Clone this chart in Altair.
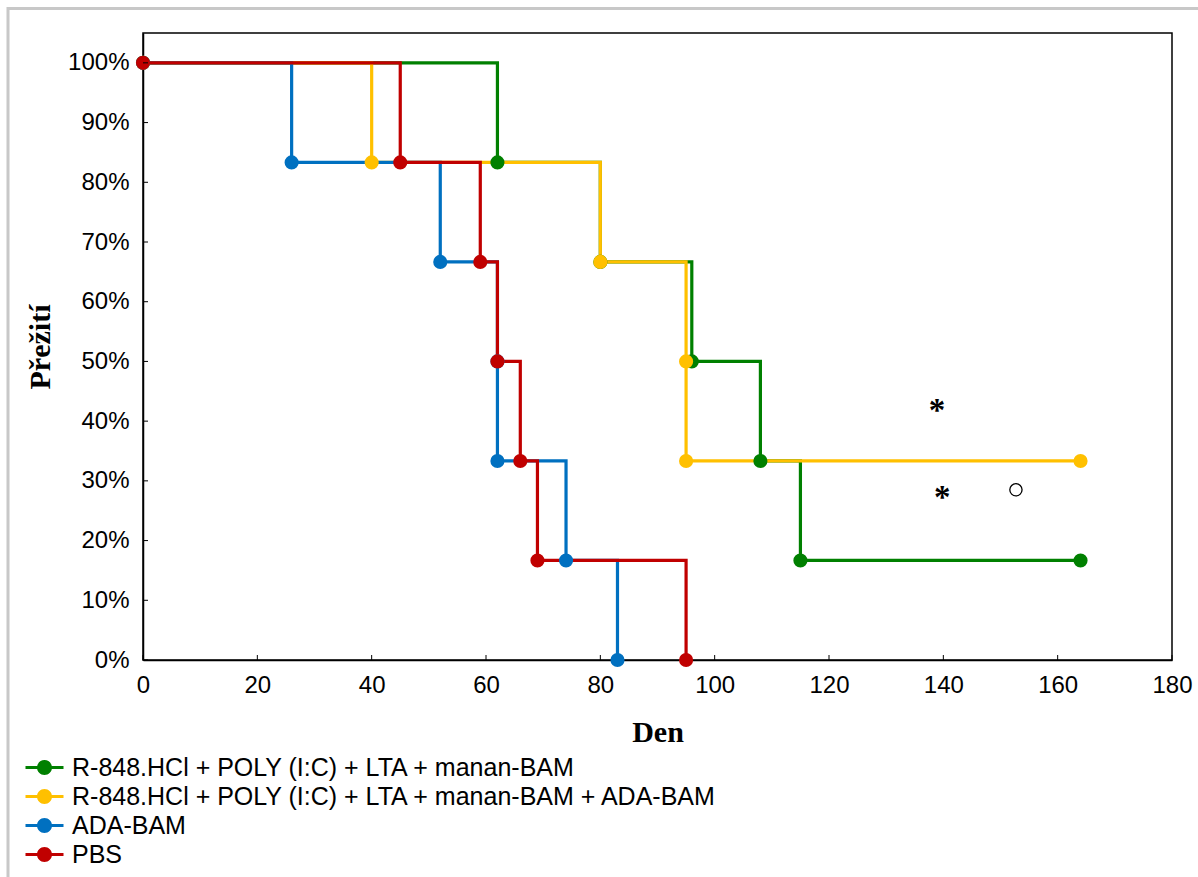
import altair as alt
import pandas as pd

# ---- data -------------------------------------------------------------
SERIES = [
    "R-848.HCl + POLY (I:C) + LTA + manan-BAM",
    "R-848.HCl + POLY (I:C) + LTA + manan-BAM + ADA-BAM",
    "ADA-BAM",
    "PBS",
]
COLORS = ["#008000", "#FFC000", "#0070C0", "#C00000"]

green_days = [0, 62, 80, 96, 108, 115, 164]
green_surv = [1.0, 0.8333, 0.6667, 0.5, 0.3333, 0.1667, 0.1667]

yellow_days = [0, 40, 80, 95, 95, 164]
yellow_surv = [1.0, 0.8333, 0.6667, 0.5, 0.3333, 0.3333]

blue_days = [0, 26, 52, 62, 62, 74, 83]
blue_surv = [1.0, 0.8333, 0.6667, 0.5, 0.3333, 0.1667, 0.0]

red_days = [0, 45, 59, 62, 66, 69, 95]
red_surv = [1.0, 0.8333, 0.6667, 0.5, 0.3333, 0.1667, 0.0]

X_TICKS = [0, 20, 40, 60, 80, 100, 120, 140, 160, 180]
Y_TICKS = [0.0, 0.1, 0.2, 0.3, 0.4, 0.5, 0.6, 0.7, 0.8, 0.9, 1.0]

# significance markers drawn in the plot
star_days = [138.9, 139.8]
star_surv = [0.427, 0.281]
ring_days = [152.7]
ring_surv = [0.285]

# ---- tables -----------------------------------------------------------
rows = []
for name, days, surv in zip(
    SERIES,
    [green_days, yellow_days, blue_days, red_days],
    [green_surv, yellow_surv, blue_surv, red_surv],
):
    for i, (d, s) in enumerate(zip(days, surv)):
        rows.append({"series": name, "day": d, "survival": s, "idx": i})
df = pd.DataFrame(rows)

W, H = 1029, 627

x_scale = alt.Scale(domain=[0, 180], nice=False, zero=False)
y_scale = alt.Scale(domain=[0, 1.05], nice=False, zero=False)
color_scale = alt.Scale(domain=SERIES, range=COLORS)

x_axis = alt.Axis(
    values=X_TICKS, ticks=False, tickSize=0, grid=False,
    labelFont="Liberation Sans", labelFontSize=24, labelColor="#000",
    labelPadding=13, labelFlush=False, labelOverlap=False,
    domainColor="#000", domainWidth=1.5,
    title="Den", titleFont="Liberation Serif", titleFontSize=30,
    titleFontWeight="bold", titleColor="#000",
    titleY=72, titleBaseline="middle",
)
y_axis = alt.Axis(
    values=Y_TICKS, format=".0%", ticks=False, tickSize=0, grid=False,
    labelFont="Liberation Sans", labelFontSize=24, labelColor="#000",
    labelPadding=14, labelFlush=False, labelOverlap=False,
    domainColor="#000", domainWidth=1.5,
    title="Přežití", titleFont="Liberation Serif", titleFontSize=30,
    titleFontWeight="bold", titleColor="#000",
    titleX=-103, titleY=H / 2, titleAngle=270,
    titleAlign="center", titleBaseline="middle",
)


def xenc():
    return alt.X("day:Q", scale=x_scale, axis=x_axis)


def yenc():
    return alt.Y("survival:Q", scale=y_scale, axis=y_axis)


# light grey frame round the whole figure
frame = alt.Chart(pd.DataFrame({"k": [0]})).mark_rect(
    fill="transparent", stroke="#c8c8c8", strokeWidth=3
).encode(
    x=alt.value(-135), x2=alt.value(W + 40),
    y=alt.value(-24.5), y2=alt.value(H + 240),
)

# step lines, one layer per group so they stack in legend order
line_layers = []
for name, col in zip(SERIES, COLORS):
    line_layers.append(
        alt.Chart(df)
        .transform_filter(alt.datum.series == name)
        .mark_line(interpolate="step-after", strokeWidth=3.2, color=col)
        .encode(x=xenc(), y=yenc(), order="idx:Q")
    )

# legend symbol: a short line with a dot in the middle
SYMBOL = (
    "M-1.9,-0.16L-0.7,-0.16L-0.7,0.16L-1.9,0.16Z"
    "M0.7,-0.16L1.9,-0.16L1.9,0.16L0.7,0.16Z"
    "M0.75,0A0.75,0.75,0,1,1,-0.75,0A0.75,0.75,0,1,1,0.75,0Z"
)

points = alt.Chart(df).mark_circle(size=200, opacity=1).encode(
    x=xenc(), y=yenc(),
    color=alt.Color(
        "series:N", scale=color_scale, sort=SERIES,
        legend=alt.Legend(
            title=None, orient="none", legendX=-111, legendY=722,
            direction="vertical", symbolType=SYMBOL, symbolSize=400,
            symbolStrokeWidth=0, symbolOpacity=1,
            labelFont="Liberation Sans", labelFontSize=25, labelColor="#000",
            labelOffset=15, labelLimit=1000, rowPadding=3, padding=0,
        ),
    ),
)

# inward tick marks on the two axes
x_ticks = alt.Chart(pd.DataFrame({"day": X_TICKS})).mark_rule(
    color="#000", strokeWidth=1
).encode(x=xenc(), y=alt.value(H), y2=alt.value(H - 5))

y_ticks = alt.Chart(pd.DataFrame({"survival": Y_TICKS})).mark_rule(
    color="#000", strokeWidth=1
).encode(y=yenc(), x=alt.value(0), x2=alt.value(5))

stars = alt.Chart(
    pd.DataFrame({"day": star_days, "survival": star_surv, "t": ["*", "*"]})
).mark_text(
    font="Liberation Serif", fontWeight="bold", fontSize=33,
    align="center", baseline="middle", dy=6, color="#000",
).encode(x=xenc(), y=yenc(), text="t:N")

ring = alt.Chart(
    pd.DataFrame({"day": ring_days, "survival": ring_surv})
).mark_point(
    shape="circle", filled=False, color="#000", strokeWidth=1.3,
    size=150, opacity=1,
).encode(x=xenc(), y=yenc())

chart = (
    alt.layer(frame, *line_layers, points, x_ticks, y_ticks, stars, ring)
    .properties(
        width=W, height=H,
        padding={"left": 143, "top": 33, "right": 26, "bottom": 217},
        autosize=alt.AutoSizeParams(type="none"),
        background="white",
    )
    .configure_view(stroke="#000", strokeWidth=1.5)
)

chart.save("out.html", embed_options={"renderer": "svg", "actions": False})
